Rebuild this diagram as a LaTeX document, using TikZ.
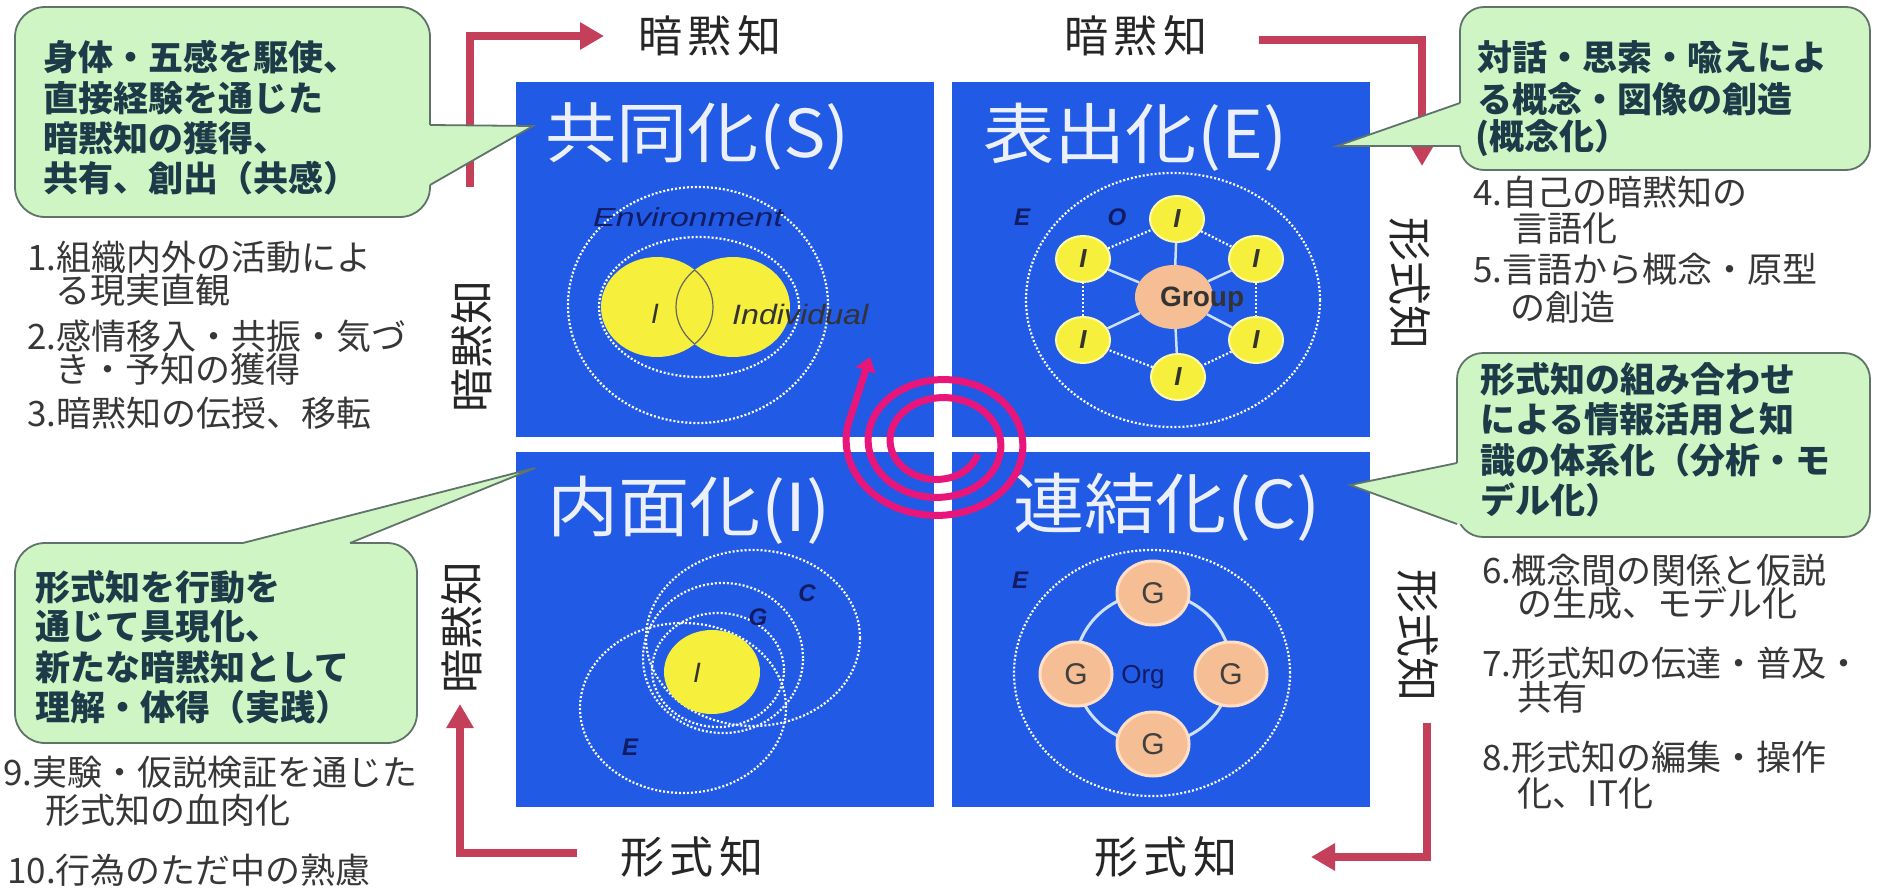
\documentclass[tikz,border=0pt]{standalone}
\usepackage{fontspec}
\setmainfont{Noto Sans CJK JP}
\newfontfamily\lat{Liberation Sans}
\usetikzlibrary{arrows.meta,shapes.geometric}
\definecolor{qblue}{RGB}{33,90,228}
\definecolor{callfill}{RGB}{207,245,196}
\definecolor{callline}{RGB}{95,115,105}
\definecolor{calltext}{RGB}{28,58,72}
\definecolor{listtext}{RGB}{55,55,55}
\definecolor{redarr}{RGB}{196,64,90}
\definecolor{spir}{RGB}{232,22,122}
\definecolor{yel}{RGB}{246,240,60}
\definecolor{yelrim}{RGB}{252,250,170}
\definecolor{peach}{RGB}{246,190,148}
\definecolor{peachrim}{RGB}{255,222,196}
\definecolor{navy}{RGB}{18,28,100}
\definecolor{spokec}{RGB}{205,225,255}
\definecolor{ttlc}{RGB}{236,240,250}
\begin{document}
\begin{tikzpicture}[x=1pt,y=-1pt,
  quad/.style={fill=qblue, draw=none, anchor=north west, minimum width=418pt, minimum height=355pt, inner sep=0},
  ttl/.style={anchor=west, text=ttlc, font=\fontsize{66}{66}\selectfont, inner sep=0},
  dotc/.style={draw=white, line width=2.2pt, dash pattern=on 2pt off 2pt},
  call/.style={fill=callfill, draw=callline, line width=1.8pt},
  calltail/.style={draw=callline, line width=1.8pt, line join=miter},
  ctext/.style={anchor=west, text=calltext, font=\bfseries\fontsize{35}{35}\selectfont, inner sep=0},
  ltext/.style={anchor=west, text=listtext, font=\fontsize{35}{35}\selectfont, inner sep=0},
  lab/.style={text=black!85, font=\fontsize{44}{44}\selectfont, inner sep=0},
  redarrow/.style={draw=redarr, line width=8pt, line join=miter, -{Triangle[length=24pt,width=26pt]}},
  navylab/.style={text=navy, font=\lat\itshape\bfseries\fontsize{24}{24}\selectfont, inner sep=0},
  darkit/.style={text=black!80, font=\lat\itshape\fontsize{28}{28}\selectfont, inner sep=0},
  yelI/.style={ellipse, fill=yel, draw=yelrim, line width=2pt, minimum width=54pt, minimum height=46pt, inner sep=0, text=black!80, font=\lat\itshape\bfseries\fontsize{26}{26}\selectfont},
  gnode/.style={ellipse, fill=peach, draw=peachrim, line width=3pt, minimum width=72pt, minimum height=64pt, inner sep=0, text=black!75, font=\lat\fontsize{30}{30}\selectfont},
  spokel/.style={draw=spokec, line width=2.5pt},
  spiral/.style={draw=spir, line width=7pt}
]
\useasboundingbox (0,0) rectangle (1880,891);
\fill[white] (0,0) rectangle (1880,891);

% ---------- quadrants ----------
\node[quad] (qS) at (516,82) {};
\node[quad] (qE) at (952,82) {};
\node[quad] (qI) at (516,452) {};
\node[quad] (qC) at (952,452) {};

% ---------- S quadrant ----------
\draw[dotc] (698,305) ellipse [x radius=130pt, y radius=118pt];
\draw[dotc] (699,307) ellipse [x radius=100pt, y radius=70pt];
\fill[yel] (657,307) ellipse [x radius=56pt, y radius=50pt];
\fill[yel] (733,307) ellipse [x radius=57pt, y radius=50pt];
\begin{scope}
  \clip (657,307) ellipse [x radius=56pt, y radius=50pt];
  \draw[black!60, line width=1.2pt] (733,307) ellipse [x radius=57pt, y radius=50pt];
\end{scope}
\begin{scope}
  \clip (733,307) ellipse [x radius=57pt, y radius=50pt];
  \draw[black!60, line width=1.2pt] (657,307) ellipse [x radius=56pt, y radius=50pt];
\end{scope}
\node[darkit] (sI) at (655,314) {I};
\node[darkit, anchor=west] (sInd) at (732,314) {\scalebox{1.15}[1]{Individual}};
\node[navylab, anchor=west, font=\lat\itshape\fontsize{26}{26}\selectfont] (sEnv) at (593,217) {\scalebox{1.3}[1]{Environment}};

% ---------- E quadrant ----------
\draw[dotc] (1173,300) ellipse [x radius=147pt, y radius=127pt];
\node[ellipse, fill=peach, minimum width=78pt, minimum height=64pt, inner sep=0] (grp) at (1174,297) {};
\node[yelI] (e1) at (1177,219) {I};
\node[yelI] (e2) at (1256,259) {I};
\node[yelI] (e3) at (1256,340) {I};
\node[yelI] (e4) at (1178,377) {I};
\node[yelI] (e5) at (1083,340) {I};
\node[yelI] (e6) at (1083,259) {I};
\foreach \n in {e1,e2,e3,e4,e5,e6} \draw[spokel] (grp) -- (\n);
\draw[dotc] (e1) -- (e2);
\draw[dotc] (e2) -- (e3);
\draw[dotc] (e3) -- (e4);
\draw[dotc] (e4) -- (e5);
\draw[dotc] (e5) -- (e6);
\draw[dotc] (e6) -- (e1);
\node[text=black!80, font=\lat\bfseries\fontsize{28}{28}\selectfont, inner sep=0, anchor=west] (grpt) at (1160,300) {Group};
\node[navylab] (eE) at (1022,217) {E};
\node[navylab] (eO) at (1117,217) {O};

% ---------- I quadrant ----------
\draw[dotc] (753,638) ellipse [x radius=107pt, y radius=88pt];
\draw[dotc] (723,658) ellipse [x radius=80pt, y radius=75pt];
\draw[dotc] (683,708) ellipse [x radius=103pt, y radius=85pt];
\draw[dotc] (718,670) ellipse [x radius=66pt, y radius=57pt];
\node[ellipse, fill=yel, minimum width=96pt, minimum height=84pt, inner sep=0] (iY) at (712,672) {};
\node[darkit] (iI) at (697,673) {I};
\node[navylab] (iG) at (758,617) {G};
\node[navylab] (iC) at (807,593) {C};
\node[navylab] (iE) at (630,747) {E};

% ---------- C quadrant ----------
\draw[dotc] (1152,673) ellipse [x radius=138pt, y radius=123pt];
\draw[spokel, line width=3pt] (1153,668.5) ellipse [x radius=78pt, y radius=75.5pt];
\node[gnode] (g1) at (1153,593) {G};
\node[gnode] (g2) at (1076,674) {G};
\node[gnode] (g3) at (1231,674) {G};
\node[gnode] (g4) at (1153,744) {G};
\node[text=navy, font=\lat\fontsize{26}{26}\selectfont, inner sep=0] (cOrg) at (1143,677) {Org};
\node[navylab] (cE) at (1020,580) {E};

% ---------- titles ----------
\node[ttl] (tS) at (545,137) {\scalebox{1.08}[1]{共同化(S)}};
\node[ttl] (tE) at (983,137) {\scalebox{1.08}[1]{表出化(E)}};
\node[ttl] (tI) at (547,510) {\scalebox{1.08}[1]{内面化(I)}};
\node[ttl] (tC) at (1013,507) {\scalebox{1.08}[1]{連結化(C)}};

% ---------- spiral ----------
\coordinate (sptip) at (870,357);
\draw[spiral, -{Triangle[length=14pt,width=20pt]}] plot[domain=-700:200, samples=260, smooth] ({940+(95-(200-\x)/360*22)*cos(\x)}, {443+0.82*(95-(200-\x)/360*22)*sin(\x)}) -- (sptip);

% ---------- axis labels ----------
\node[lab] (hTL) at (710,36) {暗\hspace{6pt}黙\hspace{6pt}知};
\node[lab] (hTR) at (1136,36) {暗\hspace{6pt}黙\hspace{6pt}知};
\node[lab] (hBL) at (692,857) {形\hspace{6pt}式\hspace{6pt}知};
\node[lab] (hBR) at (1166,857) {形\hspace{6pt}式\hspace{6pt}知};
\node[lab, rotate=90] (vL1) at (472,346) {暗黙知};
\node[lab, rotate=90] (vL2) at (462,627) {暗黙知};
\node[lab, rotate=-90] (vR1) at (1410,283) {形式知};
\node[lab, rotate=-90] (vR2) at (1418,635) {形式知};

% ---------- red arrows ----------
\coordinate (a1s) at (470,187); \coordinate (a1c) at (470,36); \coordinate (a1e) at (604,36);
\coordinate (a2s) at (1259,40); \coordinate (a2c) at (1422,40); \coordinate (a2e) at (1422,166);
\coordinate (a3s) at (1427,723); \coordinate (a3c) at (1427,857); \coordinate (a3e) at (1311,857);
\coordinate (a4s) at (577,853); \coordinate (a4c) at (460,853); \coordinate (a4e) at (460,704);
\draw[redarrow] (a1s) -- (a1c) -- (a1e);
\draw[redarrow] (a2s) -- (a2c) -- (a2e);
\draw[redarrow] (a3s) -- (a3c) -- (a3e);
\draw[redarrow] (a4s) -- (a4c) -- (a4e);

% ---------- callouts ----------
% top-left
\draw[call, rounded corners=30pt] (15,7) rectangle (430,217);
\coordinate (c1tip) at (533,126);
\fill[callfill] (423,125) -- (431,125) -- (c1tip) -- (431,185) -- (423,185) -- cycle;
\draw[calltail] (430,125) -- (c1tip) -- (430,185);
\node[ctext] (tl1) at (43,57) {身体・五感を駆使、};
\node[ctext] (tl2) at (43,98) {直接経験を通じた};
\node[ctext] (tl3) at (43,138) {暗黙知の獲得、};
\node[ctext] (tl4) at (43,178) {共有、創出（共感）};

% top-right
\draw[call, rounded corners=24pt] (1460,7) rectangle (1870,170);
\coordinate (c2tip) at (1337,146);
\fill[callfill] (1467,103) -- (1459,103) -- (c2tip) -- (1459,146) -- (1467,146) -- cycle;
\draw[calltail] (1460,103) -- (c2tip) -- (1460,146);
\node[ctext] (tr1) at (1477,57) {対話・思索・喩えによ};
\node[ctext] (tr2) at (1477,99) {る概念・図像の創造};
\node[ctext] (tr3) at (1475,138) {(概念化）};

% right-middle
\draw[call, rounded corners=26pt] (1457,353) rectangle (1870,537);
\coordinate (c3tip) at (1350,485);
\fill[callfill] (1464,463) -- (1456,463) -- (c3tip) -- (1456,524) -- (1464,524) -- cycle;
\draw[calltail] (1457,463) -- (c3tip) -- (1457,524);
\node[ctext] (rm1) at (1480,379) {形式知の組み合わせ};
\node[ctext] (rm2) at (1480,419) {による情報活用と知};
\node[ctext] (rm3) at (1480,460) {識の体系化（分析・モ};
\node[ctext] (rm4) at (1480,500) {デル化）};

% bottom-left
\draw[call, rounded corners=30pt] (15,543) rectangle (417,743);
\coordinate (c4tip) at (535,468);
\fill[callfill] (243,550) -- (243,542) -- (c4tip) -- (350,542) -- (350,550) -- cycle;
\draw[calltail] (243,543) -- (c4tip) -- (350,543);
\node[ctext] (bl1) at (35,587) {形式知を行動を};
\node[ctext] (bl2) at (35,627) {通じて具現化、};
\node[ctext] (bl3) at (35,667) {新たな暗黙知として};
\node[ctext] (bl4) at (35,707) {理解・体得（実践）};

% ---------- lists ----------
\node[ltext] (l1a) at (27,257) {1.組織内外の活動によ};
\node[ltext] (l1b) at (55,290) {る現実直観};
\node[ltext] (l2a) at (27,336) {2.感情移入・共振・気づ};
\node[ltext] (l2b) at (55,369) {き・予知の獲得};
\node[ltext] (l3a) at (27,413) {3.暗黙知の伝授、移転};

\node[ltext] (l4a) at (1473,192) {4.自己の暗黙知の};
\node[ltext] (l4b) at (1512,228) {言語化};
\node[ltext] (l5a) at (1473,269) {5.言語から概念・原型};
\node[ltext] (l5b) at (1510,307) {の創造};

\node[ltext] (l6a) at (1482,570) {6.概念間の関係と仮説};
\node[ltext] (l6b) at (1517,603) {の生成、モデル化};
\node[ltext] (l7a) at (1482,663) {7.形式知の伝達・普及・};
\node[ltext] (l7b) at (1517,697) {共有};
\node[ltext] (l8a) at (1482,757) {8.形式知の編集・操作};
\node[ltext] (l8b) at (1517,793) {化、IT化};

\node[ltext] (l9a) at (3,772) {9.実験・仮説検証を通じた};
\node[ltext] (l9b) at (45,810) {形式知の血肉化};
\node[ltext] (l10) at (7,870) {10.行為のただ中の熟慮};
\end{tikzpicture}
\end{document}
